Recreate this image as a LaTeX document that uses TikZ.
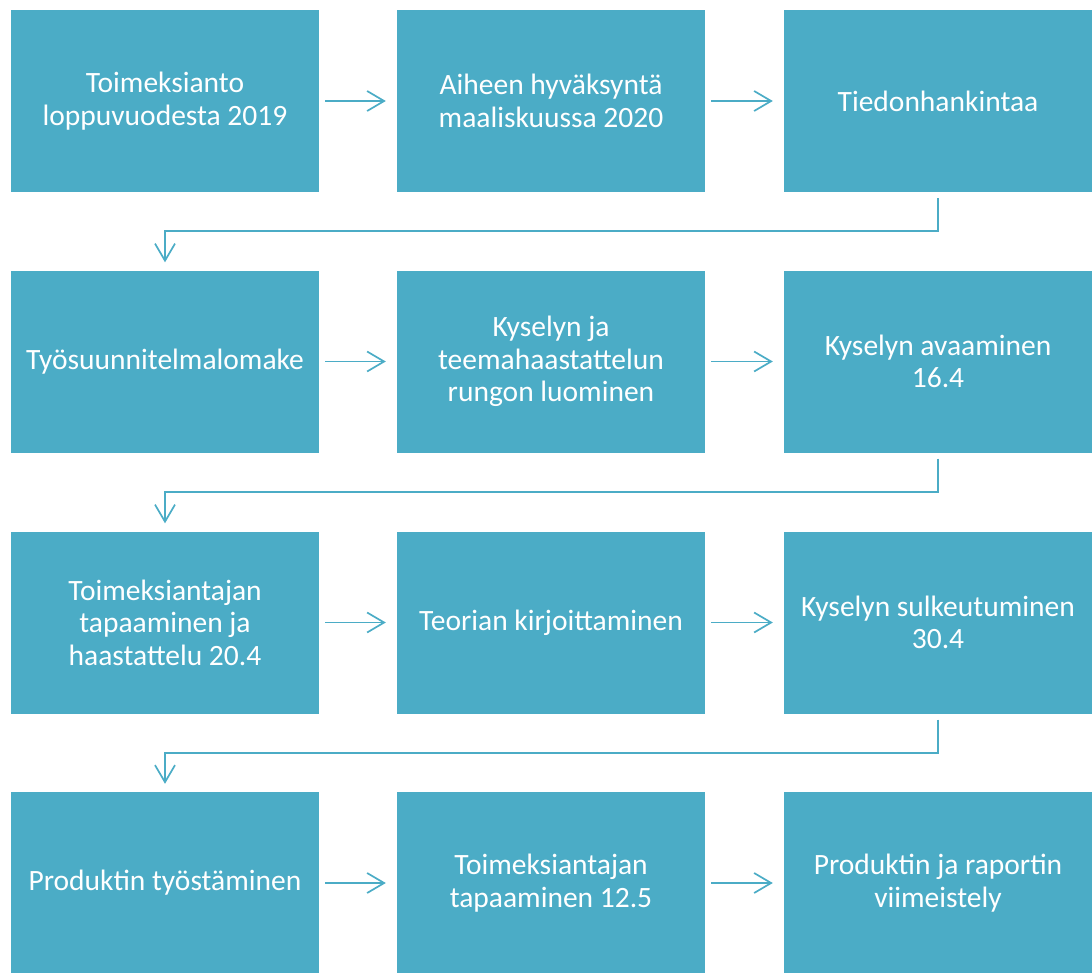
\documentclass[tikz,border=0pt]{standalone}
\usepackage{fontspec}
\setmainfont{Carlito}
\usetikzlibrary{arrows.meta}
\definecolor{vaihe}{HTML}{4BACC6}

\tikzset{
  laatikko/.style={rectangle, fill=vaihe, text=white, inner sep=0pt,
    minimum width=308pt, minimum height=182pt, align=center,
    font=\fontsize{29.5}{32.5}\selectfont},
  nuoli/.style={draw=vaihe, line width=1.7pt,
    -{Straight Barb[length=17pt, width=20pt, line width=1.7pt]}},
}

\begin{document}
\begin{tikzpicture}[x=1pt, y=-1pt]
    \useasboundingbox (0,0) rectangle (1092,972);

    % 1. rivi
    \node[laatikko] (A) at (165, 101) {Toimeksianto\\loppuvuodesta 2019};
    \node[laatikko] (B) at (551, 101) {Aiheen hyväksyntä\\maaliskuussa 2020};
    \node[laatikko] (C) at (938, 101) {Tiedonhankintaa};

    % 2. rivi
    \node[laatikko] (D) at (165, 361.5) {Työsuunnitelmalomake};
    \node[laatikko] (E) at (551, 361.5) {Kyselyn ja\\teemahaastattelun\\rungon luominen};
    \node[laatikko] (F) at (938, 361.5) {Kyselyn avaaminen\\16.4};

    % 3. rivi
    \node[laatikko] (G) at (165, 622.5) {Toimeksiantajan\\tapaaminen ja\\haastattelu 20.4};
    \node[laatikko] (H) at (551, 622.5) {Teorian kirjoittaminen};
    \node[laatikko] (I) at (938, 622.5) {Kyselyn sulkeutuminen\\30.4};

    % 4. rivi
    \node[laatikko] (J) at (165, 883) {Produktin työstäminen};
    \node[laatikko] (K) at (551, 883) {Toimeksiantajan\\tapaaminen 12.5};
    \node[laatikko] (L) at (938, 883) {Produktin ja raportin\\viimeistely};

    % vaakanuolet
    \draw[nuoli, shorten <=6pt, shorten >=11pt] (A) -- (B);
    \draw[nuoli, shorten <=6pt, shorten >=11pt] (B) -- (C);
    \draw[nuoli, shorten <=6pt, shorten >=11pt] (D) -- (E);
    \draw[nuoli, shorten <=6pt, shorten >=11pt] (E) -- (F);
    \draw[nuoli, shorten <=6pt, shorten >=11pt] (G) -- (H);
    \draw[nuoli, shorten <=6pt, shorten >=11pt] (H) -- (I);
    \draw[nuoli, shorten <=6pt, shorten >=11pt] (J) -- (K);
    \draw[nuoli, shorten <=6pt, shorten >=11pt] (K) -- (L);

    % rivinvaihtonuolet
    \draw[nuoli] ([yshift=-6pt]C.south) -- ++(0,33) -| ([yshift=8pt]D.north);
    \draw[nuoli] ([yshift=-6pt]F.south) -- ++(0,33) -| ([yshift=8pt]G.north);
    \draw[nuoli] ([yshift=-6pt]I.south) -- ++(0,33) -| ([yshift=8pt]J.north);
\end{tikzpicture}
\end{document}
